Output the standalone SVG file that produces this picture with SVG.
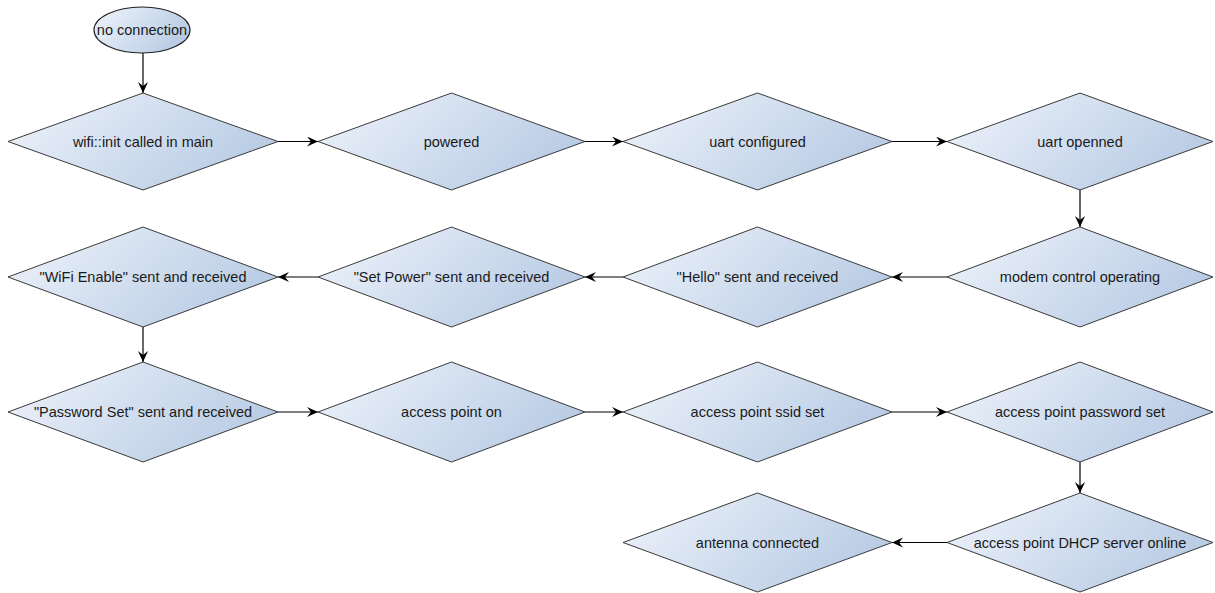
<svg xmlns="http://www.w3.org/2000/svg" width="1215" height="593" viewBox="0 0 1215 593">
<defs>
<linearGradient id="g" x1="0" y1="0.3" x2="1" y2="0.7">
<stop offset="0" stop-color="#eaf0f9"/>
<stop offset="1" stop-color="#b5c9e3"/>
</linearGradient>
<marker id="arr" markerWidth="14" markerHeight="12" refX="11" refY="5" orient="auto" markerUnits="userSpaceOnUse">
<path d="M0,0 L11,5 L0,10 L4,5 Z" fill="#000"/>
</marker>
</defs>
<style>
.n{fill:url(#g);stroke:#3a3a3a;stroke-width:1}
.t{font-family:"Liberation Sans",Arial,sans-serif;font-size:14.5px;fill:#1a1a1a;text-anchor:middle}
.c{stroke:#000;stroke-width:1.2;fill:none;marker-end:url(#arr)}
</style>
<rect width="1215" height="593" fill="#fff"/>
<g id="connectors">
<line class="c" x1="143" y1="53" x2="143" y2="93"/>
<line class="c" x1="278" y1="141.5" x2="318" y2="141.5"/>
<line class="c" x1="585" y1="141.5" x2="623" y2="141.5"/>
<line class="c" x1="892" y1="141.5" x2="947" y2="141.5"/>
<line class="c" x1="1080" y1="190" x2="1080" y2="227"/>
<line class="c" x1="947" y1="277" x2="892" y2="277"/>
<line class="c" x1="623" y1="277" x2="585" y2="277"/>
<line class="c" x1="318" y1="277" x2="278" y2="277"/>
<line class="c" x1="143" y1="327" x2="143" y2="362"/>
<line class="c" x1="278" y1="412" x2="318" y2="412"/>
<line class="c" x1="585" y1="412" x2="623" y2="412"/>
<line class="c" x1="892" y1="412" x2="947" y2="412"/>
<line class="c" x1="1080" y1="462" x2="1080" y2="493"/>
<line class="c" x1="947" y1="542.5" x2="892" y2="542.5"/>
</g>
<g id="start">
<ellipse class="n" cx="142" cy="30" rx="48" ry="23" style="stroke:#222;stroke-width:1.2"/>
<text class="t" x="142" y="35">no connection</text>
</g>
<g id="n1"><polygon class="n" points="8,141.5 143,93 278,141.5 143,190"/><text class="t" x="143" y="146.5">wifi::init called in main</text></g>
<g id="n2"><polygon class="n" points="318,141.5 451.5,93 585,141.5 451.5,190"/><text class="t" x="451.5" y="146.5">powered</text></g>
<g id="n3"><polygon class="n" points="623,141.5 757.5,93 892,141.5 757.5,190"/><text class="t" x="757.5" y="146.5">uart configured</text></g>
<g id="n4"><polygon class="n" points="947,141.5 1080,93 1213,141.5 1080,190"/><text class="t" x="1080" y="146.5">uart openned</text></g>
<g id="n5"><polygon class="n" points="947,277 1080,227 1213,277 1080,327"/><text class="t" x="1080" y="282">modem control operating</text></g>
<g id="n6"><polygon class="n" points="623,277 757.5,227 892,277 757.5,327"/><text class="t" x="757.5" y="282">"Hello" sent and received</text></g>
<g id="n7"><polygon class="n" points="318,277 451.5,227 585,277 451.5,327"/><text class="t" x="451.5" y="282">"Set Power" sent and received</text></g>
<g id="n8"><polygon class="n" points="8,277 143,227 278,277 143,327"/><text class="t" x="143" y="282">"WiFi Enable" sent and received</text></g>
<g id="n9"><polygon class="n" points="8,412 143,362 278,412 143,462"/><text class="t" x="143" y="417">"Password Set" sent and received</text></g>
<g id="n10"><polygon class="n" points="318,412 451.5,362 585,412 451.5,462"/><text class="t" x="451.5" y="417">access point on</text></g>
<g id="n11"><polygon class="n" points="623,412 757.5,362 892,412 757.5,462"/><text class="t" x="757.5" y="417">access point ssid set</text></g>
<g id="n12"><polygon class="n" points="947,412 1080,362 1213,412 1080,462"/><text class="t" x="1080" y="417">access point password set</text></g>
<g id="n13"><polygon class="n" points="947,542.5 1080,493 1213,542.5 1080,592"/><text class="t" x="1080" y="547.5">access point DHCP server online</text></g>
<g id="n14"><polygon class="n" points="623,542.5 757.5,493 892,542.5 757.5,592"/><text class="t" x="757.5" y="547.5">antenna connected</text></g>
</svg>
